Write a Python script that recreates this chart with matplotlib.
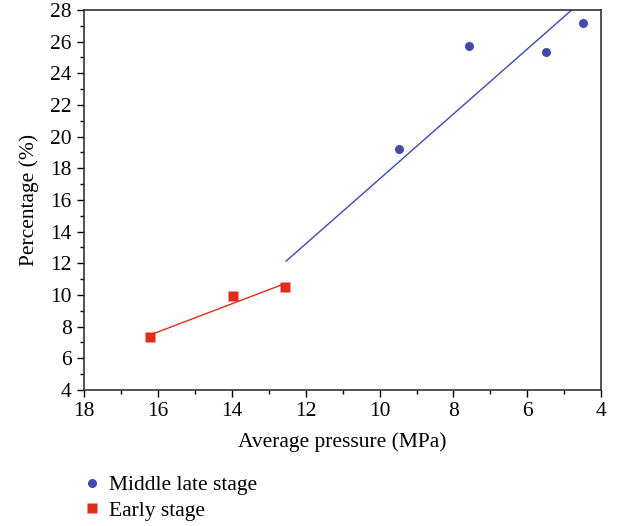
import matplotlib.pyplot as plt
from matplotlib.ticker import MultipleLocator

# data
mid_x = [9.48, 7.57, 5.49, 4.5]
mid_y = [19.2, 25.73, 25.37, 27.18]
mid_fit_x = [12.53, 4.8]
mid_fit_y = [12.14, 28.0]

early_x = [16.21, 13.97, 12.56]
early_y = [7.33, 9.94, 10.48]
early_fit_x = [16.21, 12.56]
early_fit_y = [7.48, 10.72]

blue = '#4149ab'
red = '#e02b1d'

plt.rcParams['font.family'] = ['Liberation Serif', 'DejaVu Serif']

fig = plt.figure(figsize=(6.23, 5.26), dpi=100)
ax = fig.add_axes([0.135, 0.2586, 0.83, 0.7224])

ax.plot(mid_fit_x, mid_fit_y, color=blue, lw=1.0)
ax.plot(early_fit_x, early_fit_y, color=red, lw=1.0)
ax.plot(mid_x, mid_y, 'o', color=blue, ms=6.5, mec='none', label='Middle late stage')
ax.plot(early_x, early_y, 's', color=red, ms=7, mec='none', label='Early stage')

ax.set_xlim(18, 4)
ax.set_ylim(4, 28)
ax.xaxis.set_major_locator(MultipleLocator(2))
ax.xaxis.set_minor_locator(MultipleLocator(1))
ax.yaxis.set_major_locator(MultipleLocator(2))
ax.yaxis.set_minor_locator(MultipleLocator(1))
ax.tick_params(which='both', direction='out', labelsize=15.5, width=1)
ax.tick_params(which='major', length=5, pad=4)
ax.tick_params(which='minor', length=3)
for s in ax.spines.values():
    s.set_linewidth(1.2)
    s.set_color('#333333')

ax.set_xlabel('Average pressure (MPa)', fontsize=15.5, labelpad=8)
ax.set_ylabel('Percentage (%)', fontsize=15.5, labelpad=8)

fig.legend(loc='upper left', bbox_to_anchor=(0.12, 0.113), frameon=False,
           fontsize=15.5, handlelength=0.8, handletextpad=0.4, labelspacing=0.25,
           borderaxespad=0)

fig.savefig('out.png', dpi=100)
